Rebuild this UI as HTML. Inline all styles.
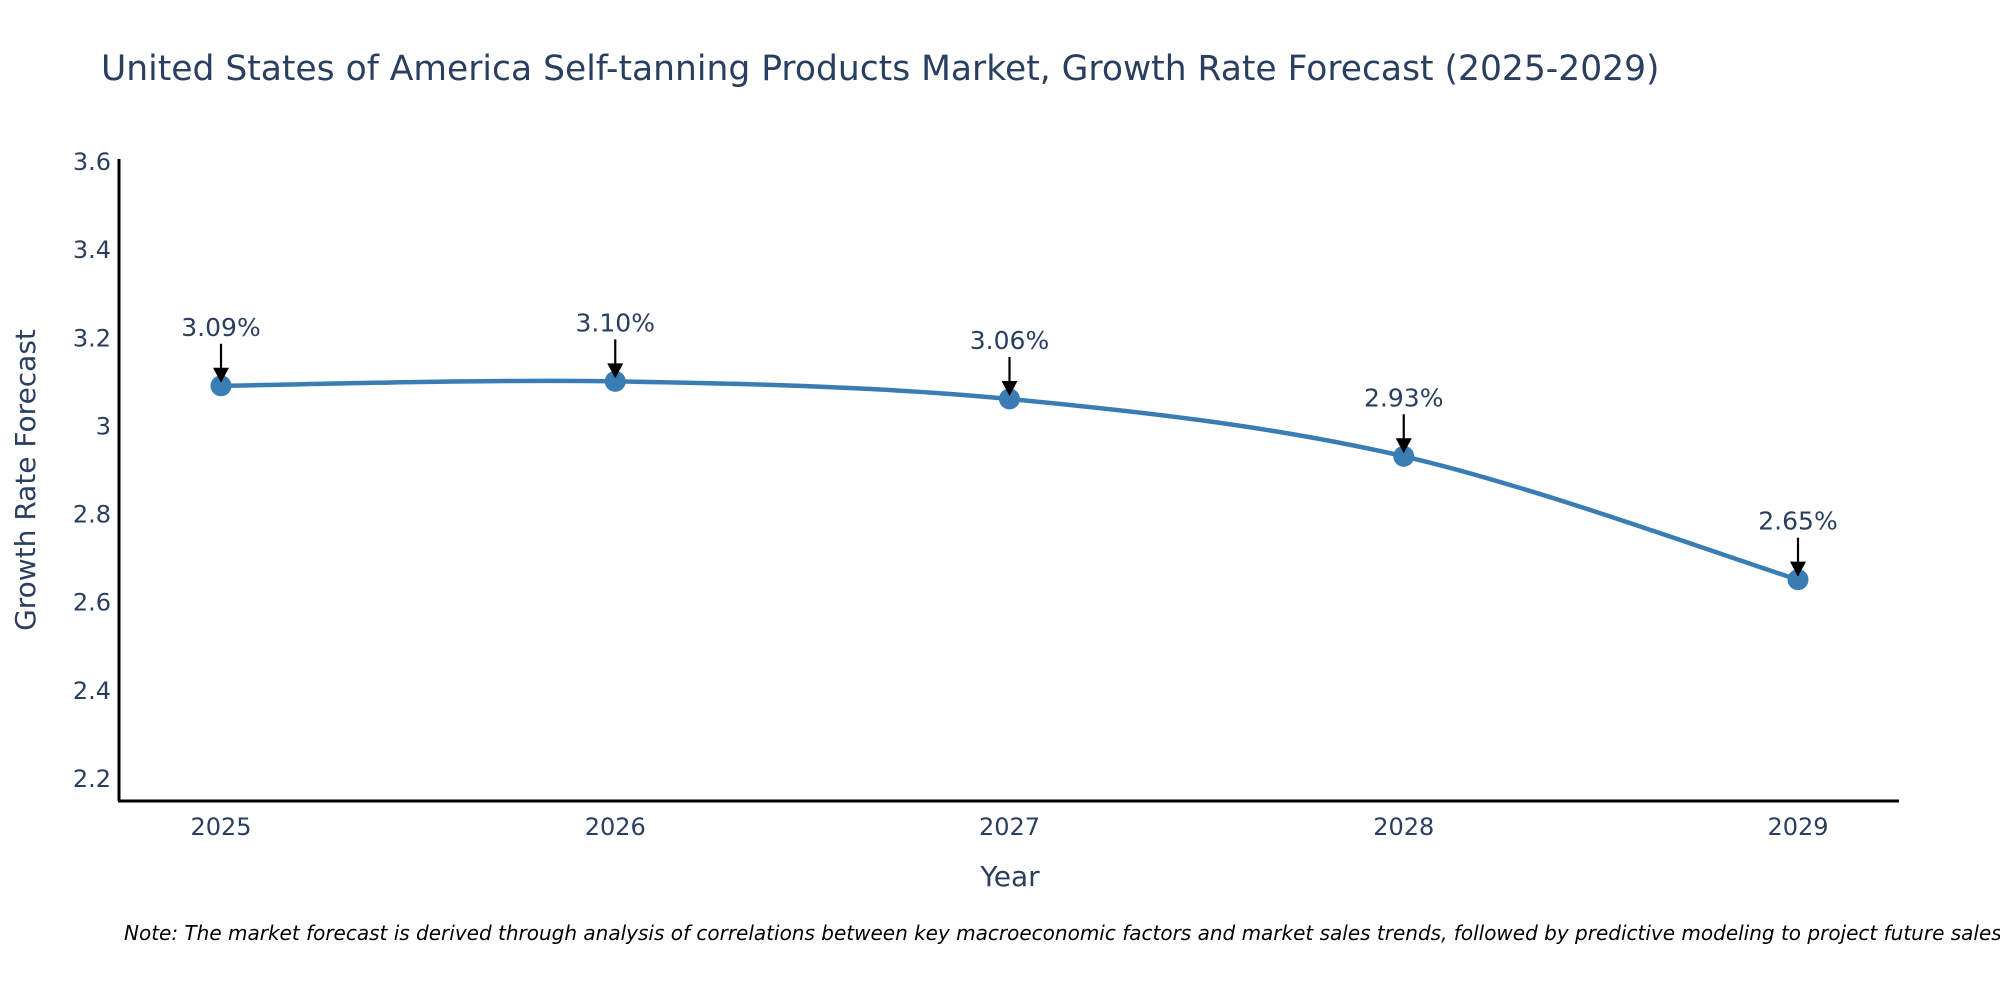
<!DOCTYPE html>
<html><head><meta charset="utf-8"><style>
html,body{margin:0;padding:0;background:#fff;}
svg{display:block;font-family:"DejaVu Sans","Liberation Sans",sans-serif;}
</style></head><body>
<svg id="chart" width="2000" height="1000" viewBox="0 0 2000 1000">
<text x="101" y="80" font-size="34.5" fill="#2a3f5f">United States of America Self-tanning Products Market, Growth Rate Forecast (2025-2029)</text>
<g id="yticks"></g>
<g id="xticks"></g>
<line x1="119" y1="159" x2="119" y2="801" stroke="#000" stroke-width="3"/>
<line x1="118" y1="801" x2="1899" y2="801" stroke="#000" stroke-width="3"/>
<text x="0" y="0" transform="translate(35,480) rotate(-90)" text-anchor="middle" font-size="28" fill="#2a3f5f">Growth Rate Forecast</text>
<text x="1010" y="886" text-anchor="middle" font-size="28" fill="#2a3f5f">Year</text>
<path id="line" fill="none" stroke="#3a7db4" stroke-width="4.5"/>
<g id="marks"></g>
<text x="124" y="940" font-size="20" font-style="italic" fill="#000">Note: The market forecast is derived through analysis of correlations between key macroeconomic factors and market sales trends, followed by predictive modeling to project future sales.</text>
</svg>
<script>
const years = [2025, 2026, 2027, 2028, 2029];
const values = [3.09, 3.10, 3.06, 2.93, 2.65];
const labels = ["3.09%", "3.10%", "3.06%", "2.93%", "2.65%"];
const yTicks = [2.2, 2.4, 2.6, 2.8, 3, 3.2, 3.4, 3.6];

const NS = "http://www.w3.org/2000/svg";
function xs(yr){ return 221 + (yr - 2025) * (1798 - 221) / 4; }
function ys(v){ return 778 - (v - 2.2) * (778 - 161) / 1.4; }
function mk(tag, attrs, parent){ const e = document.createElementNS(NS, tag); for (const k in attrs) e.setAttribute(k, attrs[k]); parent.appendChild(e); return e; }

const yg = document.getElementById('yticks');
yTicks.forEach(t => {
  const tx = mk('text', {x: 111, y: ys(t) + 9, 'text-anchor': 'end', 'font-size': 24, fill: '#2a3f5f'}, yg);
  
  
  tx.textContent = String(t);
});
const xg = document.getElementById('xticks');
years.forEach(y => {
  const tx = mk('text', {x: xs(y), y: 835, 'text-anchor': 'middle', 'font-size': 24, fill: '#2a3f5f'}, xg);
  
  
  tx.textContent = String(y);
});

const pts = years.map((y, i) => [xs(y), ys(values[i])]);
let d = `M${pts[0][0]},${pts[0][1]}`;
for (let i = 0; i < pts.length - 1; i++) {
  const p0 = pts[Math.max(i - 1, 0)], p1 = pts[i], p2 = pts[i + 1], p3 = pts[Math.min(i + 2, pts.length - 1)];
  const t = 1/6;
  const c1 = [p1[0] + (p2[0] - p0[0]) * t, p1[1] + (p2[1] - p0[1]) * t];
  const c2 = [p2[0] - (p3[0] - p1[0]) * t, p2[1] - (p3[1] - p1[1]) * t];
  d += ` C${c1[0]},${c1[1]} ${c2[0]},${c2[1]} ${p2[0]},${p2[1]}`;
}
document.getElementById('line').setAttribute('d', d);

const mg = document.getElementById('marks');
pts.forEach((p, i) => {
  const c = mk('circle', {cx: p[0], cy: p[1], r: 10.5, fill: '#3a7db4'}, mg);
  
  
  const ln = mk('line', {x1: p[0], y1: p[1] - 42, x2: p[0], y2: p[1] - 16, stroke: '#000', 'stroke-width': 2.2}, mg);
  
  
  const hd = mk('polygon', {points: `${p[0]-8},${p[1]-18} ${p[0]+8},${p[1]-18} ${p[0]},${p[1]-3}`, fill: '#000'}, mg);
  
  
  const tx = mk('text', {x: p[0], y: p[1] - 50, 'text-anchor': 'middle', 'font-size': 25, fill: '#2a3f5f'}, mg);
  
  
  tx.textContent = labels[i];
});
</script>
</body></html>
